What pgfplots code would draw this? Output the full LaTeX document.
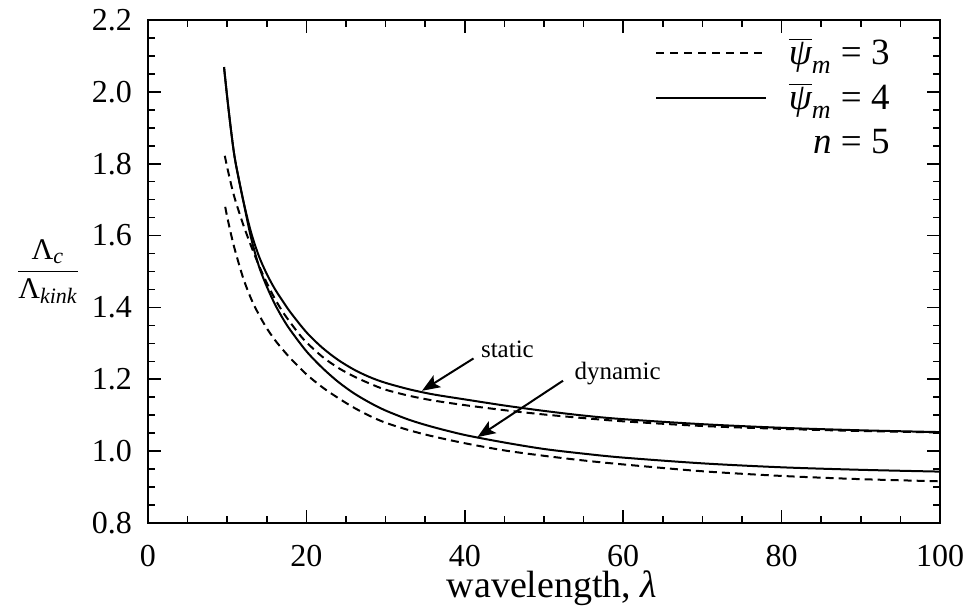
\documentclass[border=0pt]{standalone}
\usepackage{pgfplots}
\pgfplotsset{compat=1.18}
\usepackage{fontspec}
\setmainfont{Liberation Serif}
\usetikzlibrary{arrows.meta}
\newcommand\psim{$\overline{\mbox{\itshape ψ}}_{\mbox{\fontsize{13}{14}\selectfont\itshape m}}$}
\begin{document}
\begin{tikzpicture}
\useasboundingbox (-74pt,-42.5pt) rectangle (410pt,261.5pt);
\begin{axis}[
  scale only axis, width=396pt, height=251.5pt,
  clip mode=individual,
  xmin=0, xmax=100, ymin=0.8, ymax=2.2,
  xtick={0,20,...,100}, ytick={0.8,1.0,1.2,1.4,1.6,1.8,2.0,2.2},
  minor x tick num=3, minor y tick num=3,
  tick align=inside, major tick length=6.5pt, minor tick length=3.5pt,
  every tick/.style={black, line width=0.8pt},
  axis line style={line width=1pt},
  /pgf/number format/assume math mode=true,
  xticklabel style={font=\fontsize{16}{18}\selectfont, inner sep=0pt, yshift=-10.8pt},
  yticklabel style={font=\fontsize{16}{18}\selectfont, xshift=-4.5pt,
    /pgf/number format/fixed, /pgf/number format/fixed zerofill, /pgf/number format/precision=1},
  xlabel={wavelength, {\itshape λ}},
  xlabel style={font=\fontsize{19}{22}\selectfont, inner sep=0pt, at={(axis description cs:0.5,0)}, anchor=base, yshift=-37.3pt, xshift=4pt},
  ylabel={$\displaystyle\frac{\mbox{Λ}_{\mbox{\fontsize{11}{12}\selectfont\itshape c}}}{\mbox{Λ}_{\mbox{\fontsize{11}{12}\selectfont\itshape kink}}}$},
  ylabel style={font=\fontsize{15}{17}\selectfont, rotate=-90, at={(axis description cs:-0.1263,0.5)}, anchor=center},
  legend style={draw=none, fill=none, at={(axis description cs:1,1)}, anchor=north east,
    xshift=-23pt, yshift=-7pt, font=\fontsize{18.5}{20}\selectfont, row sep=4pt, inner sep=0pt,
    column sep=9pt},
  legend cell align=right,
  legend image code/.code={\draw[#1] (0pt,0pt) -- (55pt,0pt);},
]
\addlegendimage{black, line width=0.6pt, dash pattern=on 4pt off 3pt}
\addlegendentry{\psim{} = 3}
\addlegendimage{black, line width=0.8pt}
\addlegendentry{\psim{} = 4}
\addlegendimage{empty legend}
\addlegendentry{{\itshape n} = 5}
% psi=4 static (solid)
\addplot[black, line width=1pt, smooth, forget plot] coordinates {
(9.6,2.069)(10,1.985)(10.5,1.89)(11,1.81)(12,1.700)(13,1.610)(14,1.543)(15,1.493)
(16,1.452)(17,1.418)(18,1.386)(20,1.331)(22,1.288)(24,1.254)(26,1.227)(28,1.206)
(30,1.190)(33,1.172)(36,1.158)(40,1.144)(45,1.127)(50,1.112)(55,1.099)(60,1.089)
(70,1.075)(80,1.065)(90,1.058)(100,1.053)};
% psi=4 dynamic (solid)
\addplot[black, line width=1pt, smooth, forget plot] coordinates {
(9.6,2.069)(10,1.985)(10.5,1.89)(11,1.81)(12,1.700)(13,1.595)(14,1.515)(15,1.458)
(16,1.410)(17,1.370)(18,1.336)(20,1.278)(22,1.232)(24,1.193)(26,1.161)(28,1.135)
(30,1.113)(33,1.087)(36,1.067)(40,1.045)(45,1.024)(50,1.006)(55,0.993)(60,0.982)
(70,0.966)(80,0.955)(90,0.948)(100,0.943)};
% psi=3 static (dashed)
\addplot[black, line width=1pt, dash pattern=on 4pt off 2.5pt, smooth, forget plot] coordinates {
(9.7,1.822)(10,1.79)(10.5,1.742)(11,1.70)(12,1.632)(13,1.572)(14,1.517)(15,1.468)
(16,1.425)(17,1.388)(18,1.357)(19,1.328)(20,1.303)(22,1.263)(24,1.232)(26,1.208)
(28,1.188)(30,1.171)(33,1.154)(36,1.141)(40,1.128)(45,1.114)(50,1.102)(55,1.092)
(60,1.083)(70,1.070)(80,1.062)(90,1.056)(100,1.052)};
% psi=3 dynamic (dashed)
\addplot[black, line width=1pt, dash pattern=on 4pt off 2.5pt, smooth, forget plot] coordinates {
(9.75,1.680)(10,1.652)(10.5,1.602)(11,1.558)(12,1.483)(13,1.425)(14,1.380)(15,1.342)
(16,1.310)(17,1.283)(18,1.258)(20,1.214)(22,1.178)(24,1.148)(26,1.121)(28,1.098)
(30,1.079)(33,1.058)(36,1.041)(40,1.022)(45,1.002)(50,0.987)(55,0.974)(60,0.963)
(70,0.944)(80,0.931)(90,0.922)(100,0.916)};
% annotations
\node[anchor=base west, font=\fontsize{12.5}{14}\selectfont, inner sep=0pt] at (axis cs:42.0,1.262) {static};
\draw[line width=1pt, -{Stealth[length=9pt, width=7pt, inset=2pt]}] (axis cs:41.1,1.258) -- (axis cs:34.6,1.168);
\node[anchor=base west, font=\fontsize{12.5}{14}\selectfont, inner sep=0pt] at (axis cs:53.8,1.198) {dynamic};
\draw[line width=1pt, -{Stealth[length=9pt, width=7pt, inset=2pt]}] (axis cs:52.4,1.196) -- (axis cs:41.6,1.039);
\end{axis}
\end{tikzpicture}
\end{document}
